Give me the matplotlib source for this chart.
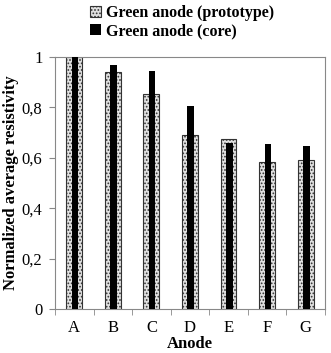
import matplotlib
matplotlib.use("Agg")
import matplotlib.pyplot as plt
import numpy as np

plt.rcParams['font.family'] = ['Liberation Serif', 'DejaVu Serif']
plt.rcParams['hatch.color'] = '#555555'
plt.rcParams['hatch.linewidth'] = 0.8

categories = ['A', 'B', 'C', 'D', 'E', 'F', 'G']
prototype = [1.0, 0.94, 0.853, 0.69, 0.676, 0.585, 0.59]
core = [1.0, 0.97, 0.946, 0.807, 0.66, 0.655, 0.646]

fig = plt.figure(figsize=(3.31, 3.53), dpi=100)
ax = fig.add_axes([0.166, 0.1246, 0.816, 0.7139])

x = np.arange(len(categories))
ax.bar(x, prototype, width=0.41, facecolor='#e0e0e0', edgecolor='#333333',
       linewidth=0.8, hatch='.....', label='Green anode (prototype)', zorder=2)
ax.bar(x + 0.02, core, width=0.17, color='black', label='Green anode (core)', zorder=3)

ax.set_xlim(-0.5, len(categories) - 0.5)
ax.set_ylim(0, 1)
ax.set_yticks([0, 0.2, 0.4, 0.6, 0.8, 1.0])
ax.set_yticklabels(['0', '0,2', '0,4', '0,6', '0,8', '1'])
ax.set_xticks(x)
ax.set_xticklabels(categories)
ax.set_xticks(np.arange(len(categories) + 1) - 0.5, minor=True)
ax.tick_params(axis='x', which='major', length=0, labelsize=12, pad=8)
ax.tick_params(axis='x', which='minor', length=4, color='#888888', direction='out')
ax.tick_params(axis='y', length=4, color='#888888', labelsize=12, direction='out', pad=5)

for s in ax.spines.values():
    s.set_color('#888888')
    s.set_linewidth(0.8)

ax.set_xlabel('Anode', fontsize=12, fontweight='bold', labelpad=0)
ax.set_ylabel('Normalized average resistivity', fontsize=12, fontweight='bold', labelpad=2)

leg = ax.legend(loc='lower center', bbox_to_anchor=(0.47, 1.0), frameon=False,
                prop={'weight': 'bold', 'size': 11.5}, handlelength=0.7, handleheight=0.7,
                handletextpad=0.3, labelspacing=0.15, borderaxespad=0.7)

fig.savefig('out.png', dpi=100)
